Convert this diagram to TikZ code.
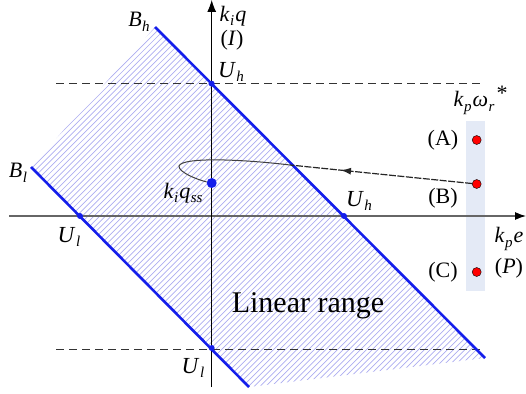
\documentclass[tikz,border=0pt]{standalone}
\usepackage{fontspec}
\setmainfont{Liberation Serif}
\usetikzlibrary{arrows.meta,decorations.markings}
\definecolor{hatchc}{RGB}{172,172,240}
\definecolor{bluel}{RGB}{20,30,235}
\definecolor{bandc}{RGB}{228,234,246}
\newcommand{\iv}[2]{\textit{#1}\kern0.5pt\raisebox{-0.45ex}{\fontsize{15}{15}\selectfont\textit{#2}}}
\tikzset{
  lbl/.style={font=\fontsize{22}{25}\selectfont, inner sep=0pt},
  ulbl/.style={font=\fontsize{23}{26}\selectfont, inner sep=0pt},
  bline/.style={draw=bluel, line width=2.6pt},
  dashline/.style={draw=black!80, line width=0.9pt, dash pattern=on 8pt off 5pt},
  bdot/.style={circle, fill=bluel, inner sep=0pt, minimum size=6pt},
  rdot/.style={circle, fill=red, draw=black, line width=0.4pt, inner sep=0pt, minimum size=9pt},
  traj/.style={draw=black!85, line width=1.2pt},
}
\begin{document}
\begin{tikzpicture}[x=1pt,y=-1pt]
\useasboundingbox (0,0) rectangle (526,393);
% hatched region
\begin{scope}
  \clip (31,167) -- (155,27) -- (485,358) -- (249,387) -- cycle;
  \foreach \i in {0,...,160}{
    \draw[hatchc, line width=0.7pt] (\i*5.8-400,420) -- ++(450,-450);
  }
\end{scope}
% band
\fill[bandc] (466,121) rectangle (485,291);
% dashed lines
\draw[dashline] (56,83) -- (481,83);
\draw[dashline] (56,349) -- (481,349);
% axes
\coordinate (xa0) at (9,216);
\coordinate (xa1) at (526,216);
\coordinate (ya0) at (211.7,387);
\coordinate (ya1) at (211.7,0);
\draw[draw=black!60, line width=1.2pt, -{Latex[length=11pt,width=8pt,color=black]}] (xa0) -- (xa1);
\draw[draw=black, line width=0.9pt, -{Latex[length=12pt,width=9pt]}] (ya0) -- (ya1);
% blue boundary lines
\coordinate (bh0) at (155,27);
\coordinate (bh1) at (485,358);
\coordinate (bl0) at (31,167);
\coordinate (bl1) at (249,387);
\draw[bline] (bh0) -- (bh1);
\draw[bline] (bl0) -- (bl1);
% blue dots
\node[bdot] (puh1) at (211.7,83.7) {};
\node[bdot] (puh2) at (344,216) {};
\node[bdot] (pul1) at (80,216) {};
\node[bdot] (pul2) at (211.7,348) {};
\node[bdot, minimum size=10pt] (ss) at (211.7,183) {};
% red dots
\node[rdot] (dA) at (476.7,140) {};
\node[rdot] (dB) at (476.7,184) {};
\node[rdot] (dC) at (476.7,272) {};
% trajectory
\coordinate (tc) at (290,165);
\draw[traj, dash pattern=on 7pt off 1.5pt,
  postaction={decorate, decoration={markings, mark=at position 0.72 with {\arrow{Latex[length=10pt,width=7pt]}}}}]
  (dB) -- (tc);
\draw[traj, draw=black!75, line width=1pt] (tc) .. controls (240,159) and (182,157) .. (179,166)
  .. controls (178,172) and (198,180) .. (ss);
% labels
\node[lbl] (lBh) at (139,22) {\iv{B}{h}};
\node[lbl] (lBl) at (18,173) {\iv{B}{l}};
\node[lbl] (lkq) at (233,16) {\iv{k}{i}\kern1pt\textit{q}};
\node[lbl] (lI) at (232,40) {(\textit{I})};
\node[ulbl] (lUh1) at (231,72) {\iv{U}{h}};
\node[ulbl] (lUh2) at (359,201) {\iv{U}{h}};
\node[ulbl] (lUl1) at (69,237) {\iv{U}{l}};
\node[ulbl] (lUl2) at (193,368) {\iv{U}{l}};
\node[lbl] (lss) at (183,193) {\iv{k}{i}\kern1pt\iv{q}{ss}};
\node[font=\fontsize{30}{34}\selectfont, inner sep=0pt] (lin) at (308,306) {Linear range};
\node[lbl] (lA) at (443,140) {(A)};
\node[lbl] (lB) at (443,198) {(B)};
\node[lbl] (lC) at (443,272) {(C)};
\node[lbl] (lkw) at (474,103) {\iv{k}{p}\kern1pt\iv{ω}{r}};
\node[lbl] (lstar) at (502,93) {*};
\node[lbl] (lke) at (509,239) {\iv{k}{p}\kern1pt\textit{e}};
\node[lbl] (lP) at (509,268) {(\textit{P})};
\end{tikzpicture}
\end{document}
